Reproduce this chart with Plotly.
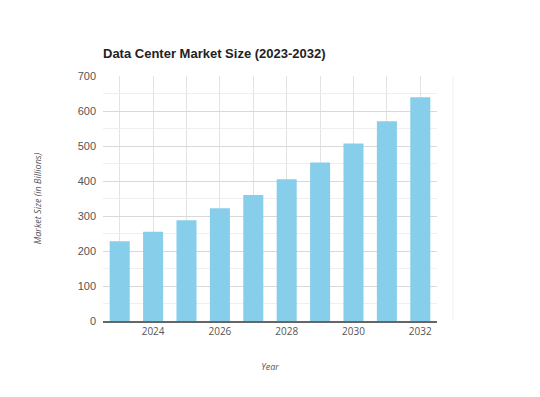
import plotly.graph_objects as go

years = [2023, 2024, 2025, 2026, 2027, 2028, 2029, 2030, 2031, 2032]
market_size = [228, 255, 288, 322, 360, 405, 453, 507, 571, 639]
x_ticks = [2024, 2026, 2028, 2030, 2032]
y_ticks = [0, 100, 200, 300, 400, 500, 600, 700]

fig = go.Figure(go.Bar(x=years, y=market_size, marker_color="#87CEEB", width=0.6,
                       marker_line_width=0))

fig.update_layout(
    width=540, height=397,
    margin=dict(l=95, r=111, t=68, b=84),
    paper_bgcolor="white", plot_bgcolor="white",
    title=dict(text="<b>Data Center Market Size (2023-2032)</b>", x=95/540, xanchor="left",
               y=1-45/397, yanchor="middle",
               font=dict(family="Liberation Sans, Arial", size=13, color="#222")),
    showlegend=False,
    font=dict(family="Open Sans", size=10, color="#555"),
)
fig.update_xaxes(
    range=[2022.5, 2032.5], tickvals=x_ticks, ticks="", showgrid=True,
    gridcolor="#e3e3e3", gridwidth=1,
    minor=dict(dtick=1, tick0=2023, showgrid=True, gridcolor="#e3e3e3"),
    showline=True, linecolor="#666", linewidth=1.5,
    title=dict(text="<i>Year</i>", font=dict(size=9, color="#555"), standoff=27),
    tickfont=dict(size=10, color="#555"),
)
fig.update_yaxes(
    range=[0, 700], tickvals=y_ticks, showgrid=True, gridcolor="#d9d9d9",
    minor=dict(dtick=50, showgrid=True, gridcolor="#efefef"),
    zeroline=False, showline=False,
    title=dict(text="<i>Market Size (in Billions)</i>", font=dict(size=9, color="#555"), standoff=34),
    tickfont=dict(family="Liberation Sans, Arial", size=11, color="#555"), ticklabelstandoff=6,
)
fig.add_shape(type="line", xref="paper", yref="paper", x0=1+16/334, x1=1+16/334, y0=0, y1=1,
              line=dict(color="#f0f0f0", width=1))
fig.write_html("out.html")
